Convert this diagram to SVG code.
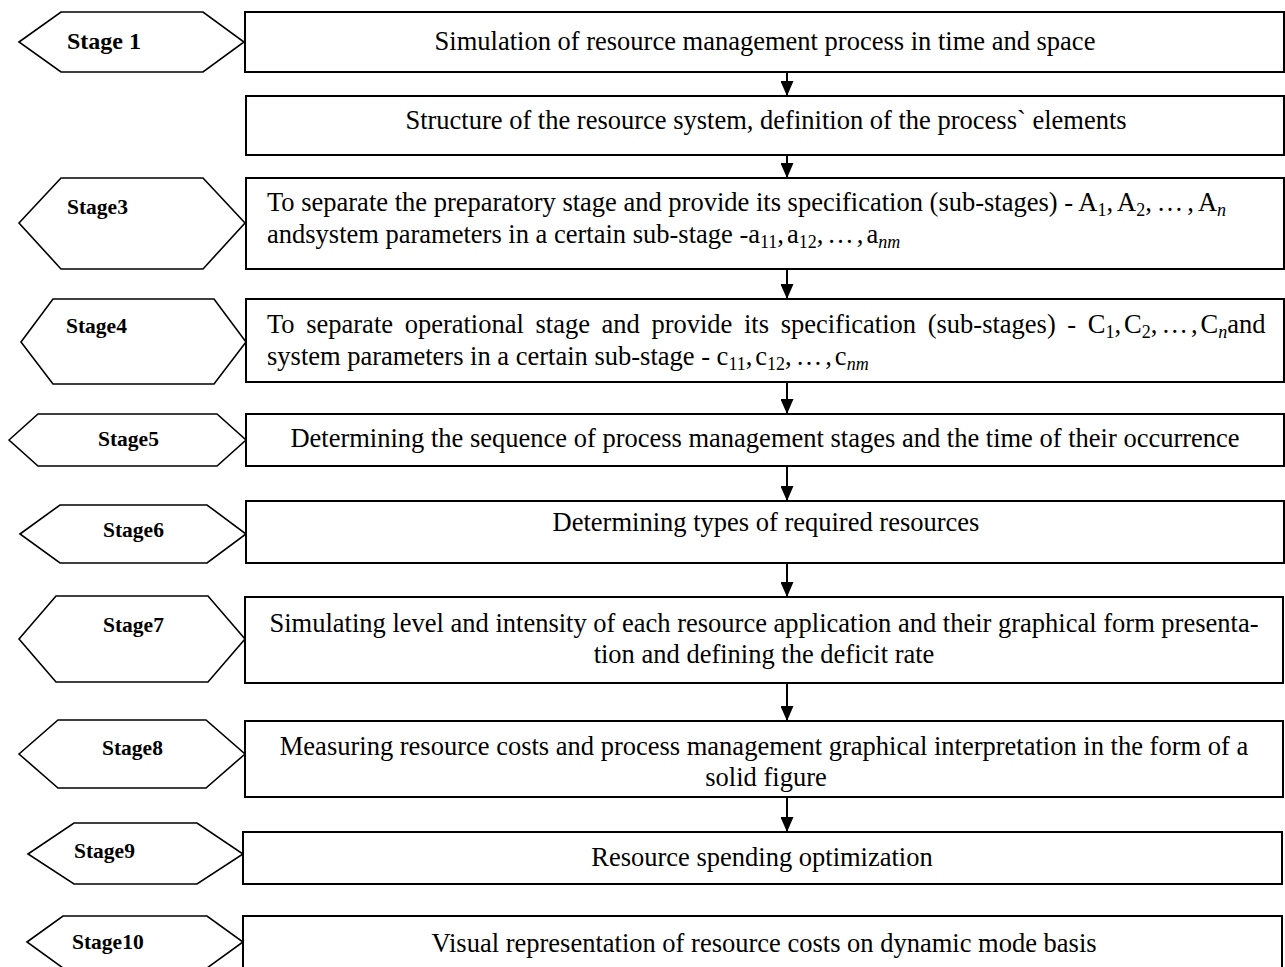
<svg xmlns="http://www.w3.org/2000/svg" width="1285" height="967" viewBox="0 0 1285 967">
<style>
.box{fill:#fff;stroke:#000;stroke-width:2}
.hex{fill:#fff;stroke:#000;stroke-width:1.6;stroke-linejoin:miter}
.t{font-family:"Liberation Serif","Times New Roman",serif;font-size:26.5px;fill:#000}
.c{text-anchor:middle}
.lbl{font-family:"Liberation Serif","Times New Roman",serif;font-weight:bold;font-size:21.5px;fill:#000}
.sub{font-size:18px}
.it{font-style:italic}
.conn{stroke:#000;stroke-width:2;fill:none}
</style>
<defs>
<marker id="ah" markerWidth="15" markerHeight="13" refX="15" refY="6.5" orient="auto" markerUnits="userSpaceOnUse" viewBox="0 0 15 13">
<path d="M0,0 L15,6.5 L0,13 Z" fill="#000"/>
</marker>
</defs>
<rect width="1285" height="967" fill="#fff"/>

<g id="stage1">
<polygon class="hex" points="19,42 61,12 203,12 244,42 203,72 61,72"/>
<text class="lbl" x="67" y="49" style="font-size:24px">Stage 1</text>
</g>
<g id="box1">
<rect class="box" x="245" y="12" width="1039" height="60"/>
<text class="t c" x="765" y="50">Simulation of resource management process in time and space</text>
</g>

<g id="box2">
<rect class="box" x="246" y="96" width="1038" height="59"/>
<text class="t c" x="766" y="129">Structure of the resource system, definition of the process` elements</text>
</g>

<g id="stage3">
<polygon class="hex" points="19,223 61,178 203,178 245,223 203,269 61,269"/>
<text class="lbl" x="67" y="214">Stage3</text>
</g>
<g id="box3">
<rect class="box" x="246" y="178" width="1038" height="91"/>
<text class="t" x="267" y="211">To separate the preparatory stage and provide its specification (sub-stages) - <tspan>A</tspan><tspan class="sub" dy="5">1</tspan><tspan dy="-5">,</tspan><tspan dx="4">A</tspan><tspan class="sub" dy="5">2</tspan><tspan dy="-5">,</tspan><tspan dx="5">…</tspan><tspan dx="4">,</tspan><tspan dx="4">A</tspan><tspan class="sub it" dy="5">n</tspan></text>
<text class="t" x="267" y="243">andsystem parameters in a certain sub-stage -<tspan>a</tspan><tspan class="sub" dy="5">11</tspan><tspan dy="-5">,</tspan><tspan dx="3">a</tspan><tspan class="sub" dy="5">12</tspan><tspan dy="-5">,</tspan><tspan dx="4">…</tspan><tspan dx="3">,</tspan><tspan dx="3">a</tspan><tspan class="sub it" dy="5">nm</tspan></text>
</g>

<g id="stage4">
<polygon class="hex" points="21,342 53,299 214,299 246,342 214,384 53,384"/>
<text class="lbl" x="66" y="333">Stage4</text>
</g>
<g id="box4">
<rect class="box" x="246" y="299" width="1038" height="83"/>
<text class="t" x="267" y="333" word-spacing="5">To separate operational stage and provide its specification (sub-stages) - <tspan>C</tspan><tspan class="sub" dy="5">1</tspan><tspan dy="-5">,</tspan><tspan dx="3">C</tspan><tspan class="sub" dy="5">2</tspan><tspan dy="-5">,</tspan><tspan dx="4">…</tspan><tspan dx="3">,</tspan><tspan dx="3">C</tspan><tspan class="sub it" dy="5">n</tspan><tspan dy="-5">and</tspan></text>
<text class="t" x="267" y="365">system parameters in a certain sub-stage - <tspan>c</tspan><tspan class="sub" dy="5">11</tspan><tspan dy="-5">,</tspan><tspan dx="3">c</tspan><tspan class="sub" dy="5">12</tspan><tspan dy="-5">,</tspan><tspan dx="4">…</tspan><tspan dx="3">,</tspan><tspan dx="3">c</tspan><tspan class="sub it" dy="5">nm</tspan></text>
</g>

<g id="stage5">
<polygon class="hex" points="9,440 38,414 217,414 246,440 217,466 38,466"/>
<text class="lbl" x="98" y="446">Stage5</text>
</g>
<g id="box5">
<rect class="box" x="246" y="414" width="1038" height="52"/>
<text class="t c" x="765" y="447">Determining the sequence of process management stages and the time of their occurrence</text>
</g>

<g id="stage6">
<polygon class="hex" points="20,534 60,505 207,505 246,534 207,563 60,563"/>
<text class="lbl" x="103" y="537">Stage6</text>
</g>
<g id="box6">
<rect class="box" x="246" y="501" width="1038" height="62"/>
<text class="t c" x="766" y="531">Determining types of required resources</text>
</g>

<g id="stage7">
<polygon class="hex" points="19,639 56,596 208,596 245,639 208,682 56,682"/>
<text class="lbl" x="103" y="632">Stage7</text>
</g>
<g id="box7">
<rect class="box" x="245" y="597" width="1038" height="86"/>
<text class="t c" x="764" y="632">Simulating level and intensity of each resource application and their graphical form presenta-</text>
<text class="t c" x="764" y="663">tion and defining the deficit rate</text>
</g>

<g id="stage8">
<polygon class="hex" points="19,754 58,720 206,720 245,754 206,788 58,788"/>
<text class="lbl" x="102" y="755">Stage8</text>
</g>
<g id="box8">
<rect class="box" x="245" y="721" width="1038" height="76"/>
<text class="t c" x="764" y="755">Measuring resource costs and process management graphical interpretation in the form of a</text>
<text class="t c" x="766" y="786">solid figure</text>
</g>

<g id="stage9">
<polygon class="hex" points="28,854 74,823 197,823 243,854 197,884 74,884"/>
<text class="lbl" x="74" y="858">Stage9</text>
</g>
<g id="box9">
<rect class="box" x="243" y="832" width="1039" height="52"/>
<text class="t c" x="762" y="866">Resource spending optimization</text>
</g>

<g id="stage10">
<polygon class="hex" points="27,942 63,916 207,916 243,942 207,968 63,968"/>
<text class="lbl" x="72" y="949">Stage10</text>
</g>
<g id="box10">
<rect class="box" x="243" y="916" width="1039" height="60"/>
<text class="t c" x="764" y="952">Visual representation of resource costs on dynamic mode basis</text>
</g>

<g id="connectors">
<line class="conn" x1="787" y1="72" x2="787" y2="96" marker-end="url(#ah)"/>
<line class="conn" x1="787" y1="155" x2="787" y2="178" marker-end="url(#ah)"/>
<line class="conn" x1="787" y1="269" x2="787" y2="299" marker-end="url(#ah)"/>
<line class="conn" x1="787" y1="382" x2="787" y2="414" marker-end="url(#ah)"/>
<line class="conn" x1="787" y1="466" x2="787" y2="501" marker-end="url(#ah)"/>
<line class="conn" x1="787" y1="563" x2="787" y2="597" marker-end="url(#ah)"/>
<line class="conn" x1="787" y1="683" x2="787" y2="721" marker-end="url(#ah)"/>
<line class="conn" x1="787" y1="797" x2="787" y2="832" marker-end="url(#ah)"/>
</g>
</svg>
